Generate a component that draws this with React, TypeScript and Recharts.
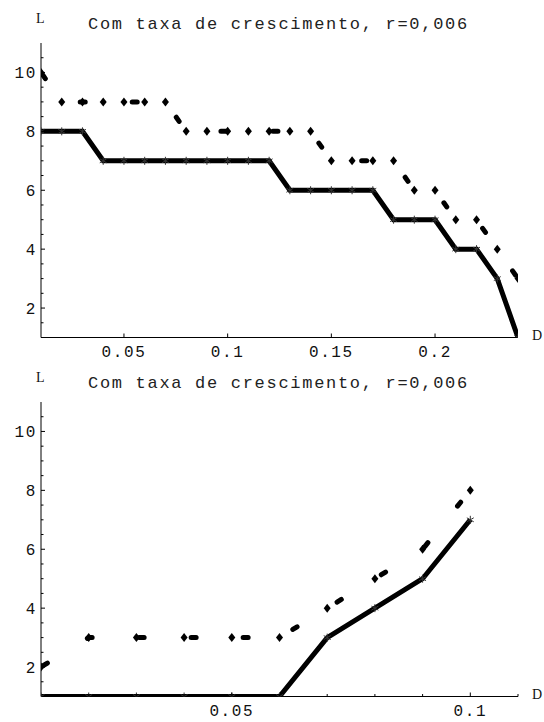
import React from 'react';
import { LineChart, Line, XAxis, YAxis } from 'recharts';

// Upper panel: D from 0.01 to 0.24
const topD = [0.01, 0.02, 0.03, 0.04, 0.05, 0.06, 0.07, 0.08, 0.09, 0.1, 0.11, 0.12, 0.13, 0.14, 0.15, 0.16, 0.17, 0.18, 0.19, 0.2, 0.21, 0.22, 0.23, 0.24];
const topSolid = [8, 8, 8, 7, 7, 7, 7, 7, 7, 7, 7, 7, 6, 6, 6, 6, 6, 5, 5, 5, 4, 4, 3, 1];
const topDashed = [10, 9, 9, 9, 9, 9, 9, 8, 8, 8, 8, 8, 8, 8, 7, 7, 7, 7, 6, 6, 5, 5, 4, 3];

// Lower panel: D from 0.01 to 0.10
const botD = [0.01, 0.02, 0.03, 0.04, 0.05, 0.06, 0.07, 0.08, 0.09, 0.1];
const botSolid = [1, 1, 1, 1, 1, 1, 3, 4, 5, 7];
const botDashed = [2, 3, 3, 3, 3, 3, 4, 5, 6, 8];

// Axis ticks
const topXTicks = [0.05, 0.1, 0.15, 0.2];
const topXLabels = ['0.05', '0.1', '0.15', '0.2'];
const botXTicks = [0.02, 0.03, 0.04, 0.05, 0.06, 0.07, 0.08, 0.09, 0.1, 0.11];
const botXMajor = [0.05, 0.1];
const botXLabels = ['0.05', '0.1'];
const yTicks = [1.5, 2, 2.5, 3, 3.5, 4, 4.5, 5, 5.5, 6, 6.5, 7, 7.5, 8, 8.5, 9, 9.5, 10, 10.5];
const yMajor = [2, 4, 6, 8, 10];
const yLabels = ['2', '4', '6', '8', '10'];

const title = 'Com taxa de crescimento, r=0,006';
const yName = 'L';
const xName = 'D';

const W = 544;
const H = 361;
const Y_AXIS_W = 41;
const X_AXIS_H = 23.5;
const MARGIN = { top: 43, right: 26, bottom: 0, left: 0 };
const MONO = '"Liberation Mono", "DejaVu Sans Mono", monospace';
const SERIF = '"Liberation Serif", "DejaVu Serif", serif';

const buildRows = (xs: number[], solid: number[], dashed: number[]) =>
  xs.map((d, i) => ({ d, solid: solid[i], dashed: dashed[i] }));

const findLabel = (v: number, majors: number[], labels: string[]) => {
  const i = majors.findIndex((m) => Math.abs(m - v) < 1e-9);
  return i >= 0 ? labels[i] : null;
};

const makeXTick = (majors: number[], labels: string[]) => (props: any) => {
  const { x, y, payload } = props;
  const label = findLabel(payload.value, majors, labels);
  return (
    <g>
      <line x1={x} x2={x} y1={y} y2={y - (label ? 4 : 2.5)} stroke="#000" strokeWidth={1} />
      {label && (
        <text x={x} y={y + 19} textAnchor="middle" fontFamily={MONO} fontSize={16} letterSpacing={1.6} fill="#111">
          {label}
        </text>
      )}
    </g>
  );
};

const YTick = (props: any) => {
  const { x, y, payload } = props;
  const label = findLabel(payload.value, yMajor, yLabels);
  return (
    <g>
      <line x1={x} x2={x + (label ? 4 : 2.5)} y1={y} y2={y} stroke="#000" strokeWidth={1} />
      {label && (
        <text x={x - 4} y={y} dy="0.36em" textAnchor="end" fontFamily={MONO} fontSize={16} letterSpacing={1.6} fill="#111">
          {label}
        </text>
      )}
    </g>
  );
};

// Small asterisk marker on the solid curve
const StarDot = (props: any) => {
  const { cx, cy, index } = props;
  if (cx == null || cy == null) return <g key={`s-${index}`} />;
  const r = 4;
  const a = r * Math.cos(Math.PI / 6);
  const b = r * Math.sin(Math.PI / 6);
  return (
    <g key={`s-${index}`} stroke="#333" strokeWidth={1}>
      <line x1={cx} y1={cy - r} x2={cx} y2={cy + r} />
      <line x1={cx - a} y1={cy - b} x2={cx + a} y2={cy + b} />
      <line x1={cx - a} y1={cy + b} x2={cx + a} y2={cy - b} />
    </g>
  );
};

// Diamond marker on the dashed curve
const DiamondDot = (props: any) => {
  const { cx, cy, index } = props;
  if (cx == null || cy == null) return <g key={`d-${index}`} />;
  const w = 3.5;
  const h = 4.5;
  return (
    <polygon
      key={`d-${index}`}
      points={`${cx},${cy - h} ${cx + w},${cy} ${cx},${cy + h} ${cx - w},${cy}`}
      fill="#000"
    />
  );
};

type PanelProps = {
  rows: { d: number; solid: number; dashed: number }[];
  xDomain: [number, number];
  xTicks: number[];
  xMajor: number[];
  xLabels: string[];
};

const Panel = ({ rows, xDomain, xTicks, xMajor, xLabels }: PanelProps) => (
  <LineChart width={W} height={H} data={rows} margin={MARGIN}>
    <XAxis
      dataKey="d"
      type="number"
      domain={xDomain}
      ticks={xTicks}
      interval={0}
      height={X_AXIS_H}
      tickSize={0}
      tickMargin={0}
      tickLine={false}
      tick={makeXTick(xMajor, xLabels)}
      axisLine={{ stroke: '#000', strokeWidth: 1 }}
      allowDataOverflow
    />
    <YAxis
      type="number"
      domain={[1, 11]}
      ticks={yTicks}
      interval={0}
      width={Y_AXIS_W}
      tickSize={0}
      tickMargin={0}
      tickLine={false}
      tick={YTick}
      axisLine={{ stroke: '#000', strokeWidth: 1 }}
      allowDataOverflow
    />
    <Line
      type="linear"
      dataKey="dashed"
      stroke="#000"
      strokeWidth={5}
      strokeDasharray="5 47"
      strokeDashoffset={-2.5}
      strokeLinecap="round"
      dot={DiamondDot}
      activeDot={false}
      isAnimationActive={false}
    />
    <Line
      type="linear"
      dataKey="solid"
      stroke="#000"
      strokeWidth={5}
      strokeLinejoin="miter"
      dot={StarDot}
      activeDot={false}
      isAnimationActive={false}
    />
  </LineChart>
);

const PanelText = ({ offset }: { offset: number }) => (
  <g>
    <text x={36} y={offset + 23} fontFamily={SERIF} fontSize={14} fill="#111">{yName}</text>
    <text x={88} y={offset + 29} fontFamily={MONO} fontSize={17} letterSpacing={1.7} fill="#222">{title}</text>
    <text x={532} y={offset + 340} fontFamily={SERIF} fontSize={14} fill="#111">{xName}</text>
  </g>
);

export default function App() {
  const topRows = buildRows(topD, topSolid, topDashed);
  const botRows = buildRows(botD, botSolid, botDashed);
  return (
    <div style={{ position: 'absolute', left: 0, top: 0, width: W, height: 722, background: '#fff', overflow: 'hidden' }}>
      <div style={{ position: 'absolute', left: 0, top: 0 }}>
        <Panel rows={topRows} xDomain={[0.01, 0.24]} xTicks={topXTicks} xMajor={topXTicks} xLabels={topXLabels} />
      </div>
      <div style={{ position: 'absolute', left: 0, top: 359 }}>
        <Panel rows={botRows} xDomain={[0.01, 0.11]} xTicks={botXTicks} xMajor={botXMajor} xLabels={botXLabels} />
      </div>
      <svg width={W} height={722} style={{ position: 'absolute', left: 0, top: 0, pointerEvents: 'none' }}>
        <PanelText offset={0} />
        <PanelText offset={359} />
      </svg>
    </div>
  );
}
